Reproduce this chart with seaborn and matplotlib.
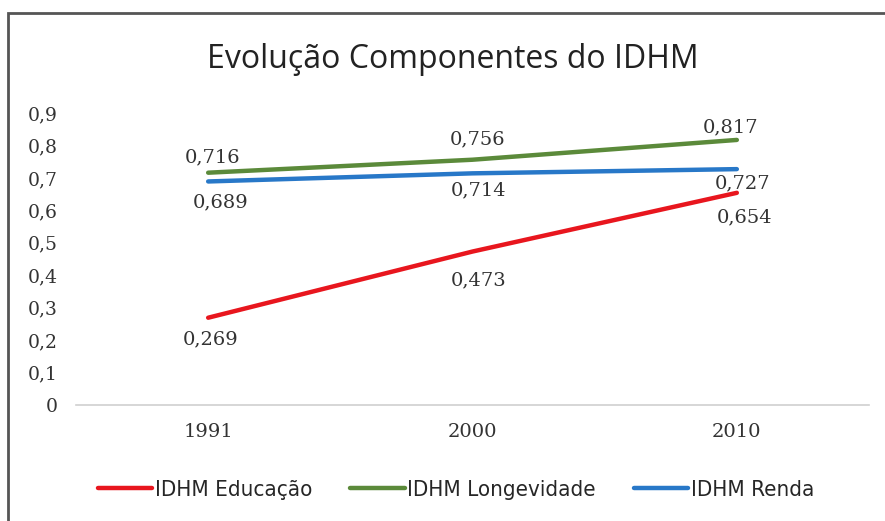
import matplotlib
matplotlib.use("Agg")
import matplotlib.pyplot as plt
import seaborn as sns
import pandas as pd
from matplotlib.patches import Rectangle
from matplotlib.lines import Line2D

years = ["1991", "2000", "2010"]
educacao = [0.269, 0.473, 0.654]
longevidade = [0.716, 0.756, 0.817]
renda = [0.689, 0.714, 0.727]
series_names = ["IDHM Educação", "IDHM Longevidade", "IDHM Renda"]
yticks = [0, 0.1, 0.2, 0.3, 0.4, 0.5, 0.6, 0.7, 0.8, 0.9]

df = pd.DataFrame({
    "Ano": years * 3,
    "Valor": educacao + longevidade + renda,
    "Série": [series_names[0]] * 3 + [series_names[1]] * 3 + [series_names[2]] * 3,
})
df["x"] = df["Ano"].map({y: i for i, y in enumerate(years)})

sns.set_theme(style="white")
plt.rcParams["font.family"] = ["DejaVu Sans"]

fig = plt.figure(figsize=(8.85, 5.21), dpi=100)
ax = fig.add_axes([76 / 885, 1 - 405 / 521, (869 - 76) / 885, (405 - 113) / 521])

palette = {series_names[0]: "#e8161e", series_names[1]: "#5b8a3a", series_names[2]: "#2878c8"}
sns.lineplot(data=df, x="x", y="Valor", hue="Série", palette=palette, ax=ax,
             linewidth=3.2, legend=False, sort=False)

ax.set_xlim(-0.5, 2.5)
ax.set_ylim(0, 0.9)
ax.set_yticks(yticks)
ax.set_yticklabels([("%g" % t).replace(".", ",") for t in yticks],
                   fontsize=13.5, family="DejaVu Serif", color="#333333")
ax.set_xticks(range(len(years)))
ax.set_xticklabels(years, fontsize=14, family="DejaVu Serif", color="#333333")
ax.tick_params(axis="y", length=0, pad=13)
ax.tick_params(axis="x", length=0, pad=13)
ax.set_xlabel("")
ax.set_ylabel("")
for s in ["top", "right", "left"]:
    ax.spines[s].set_visible(False)
ax.spines["bottom"].set_color("#d0d0d0")
ax.spines["bottom"].set_linewidth(1.2)

# data labels (pixel offsets)
offsets = {
    series_names[1]: [(4, 15), (5, 20), (-6, 13)],
    series_names[2]: [(12, -21), (6, -17), (6, -14)],
    series_names[0]: [(2, -22), (6, -29), (8, -25)],
}
for name, vals in zip(series_names, [educacao, longevidade, renda]):
    for i, v in enumerate(vals):
        dx, dy = offsets[name][i]
        ax.annotate(("%.3f" % v).replace(".", ","), (i, v),
                    xytext=(dx * 0.72, dy * 0.72), textcoords="offset points",
                    ha="center", va="center", fontsize=14,
                    family="DejaVu Serif", color="#333333")

fig.text(453 / 885, 1 - 60 / 521, "Evolução Componentes do IDHM",
         ha="center", va="center", fontsize=23, family="Open Sans", color="#222222")

# legend
handles = [Line2D([0], [0], color=palette[n], lw=3.2) for n in series_names]
leg = fig.legend(handles, series_names, loc="center", bbox_to_anchor=(456 / 885, 1 - 490 / 521),
                 ncol=3, frameon=False, handlelength=2.45, handletextpad=0.12, columnspacing=1.7,
                 prop={"family": "DejaVu Sans", "stretch": "condensed", "size": 16})

fig.patches.append(Rectangle((8 / 885, -0.02), 1.0, (1 - 13 / 521) + 0.02,
                             transform=fig.transFigure, fill=False, edgecolor="#555555",
                             linewidth=2.0))

fig.savefig("out.png", dpi=100)
